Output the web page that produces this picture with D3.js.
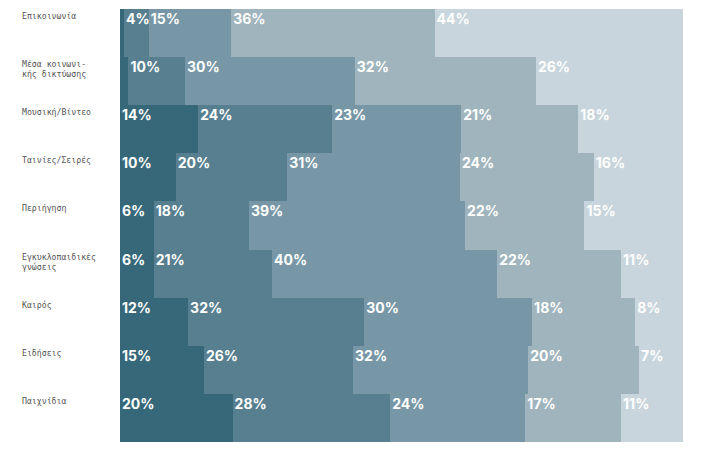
<!DOCTYPE html>
<html>
<head>
<meta charset="utf-8">
<script src="https://cdn.jsdelivr.net/npm/d3@7"></script>
<style>
  html, body { margin: 0; padding: 0; background: #fff; }
  svg { display: block; }
</style>
</head>
<body>
<svg id="chart" width="704" height="452"></svg>
<script>
const categories = [
  "Επικοινωνία",
  "Μέσα κοινωνι-\nκής δικτύωσης",
  "Μουσική/Βίντεο",
  "Ταινίες/Σειρές",
  "Περιήγηση",
  "Εγκυκλοπαιδικές\nγνώσεις",
  "Καιρός",
  "Ειδήσεις",
  "Παιχνίδια"
];
const seriesKeys = ["s1", "s2", "s3", "s4", "s5"];
// bar widths
const s1 = [0.7, 1.5, 13.9, 10, 6, 6, 12.1, 14.9, 20];
const s2 = [4.4, 10, 23.8, 20, 16.9, 21, 31.3, 26.5, 28];
const s3 = [14.6, 30, 22.9, 31, 38.4, 40, 29.8, 31.1, 24];
const s4 = [36, 32, 20.8, 24, 21.2, 22, 18.3, 19.7, 17];
const s5 = [44, 26, 18.6, 16, 17.5, 11, 8.5, 7.8, 11];
// printed percentage labels ("" = no label)
const l1 = ["", "", "14%", "10%", "6%", "6%", "12%", "15%", "20%"];
const l2 = ["4%", "10%", "24%", "20%", "18%", "21%", "32%", "26%", "28%"];
const l3 = ["15%", "30%", "23%", "31%", "39%", "40%", "30%", "32%", "24%"];
const l4 = ["36%", "32%", "21%", "24%", "22%", "22%", "18%", "20%", "17%"];
const l5 = ["44%", "26%", "18%", "16%", "15%", "11%", "8%", "7%", "11%"];
const colors = ["#37687a", "#587f8f", "#7897a6", "#9fb4bd", "#c8d5dc"];

const seriesValues = [s1, s2, s3, s4, s5];
const seriesLabels = [l1, l2, l3, l4, l5];
const rows = categories.map((c, i) => {
  const r = { category: c, index: i };
  seriesKeys.forEach((k, j) => r[k] = seriesValues[j][i]);
  return r;
});

const svg = d3.select("#chart");
const x = d3.scaleLinear().domain([0, 1]).range([120, 683]);
const y = d3.scaleBand().domain(categories).range([9, 442]).padding(0);
const color = d3.scaleOrdinal().domain(seriesKeys).range(colors);

const stacked = d3.stack().keys(seriesKeys).offset(d3.stackOffsetExpand)(rows);

const groups = svg.append("g").selectAll("g")
  .data(stacked).join("g")
  .attr("fill", d => color(d.key));

groups.selectAll("rect")
  .data(d => d.map(p => ({ p, key: d.key })))
  .join("rect")
  .attr("x", d => x(d.p[0]))
  .attr("y", d => y(d.p.data.category))
  .attr("width", d => x(d.p[1]) - x(d.p[0]))
  .attr("height", y.bandwidth())
  .attr("shape-rendering", "crispEdges");

// percentage labels
const labelG = svg.append("g");
stacked.forEach((s, si) => {
  s.forEach(p => {
    const txt = seriesLabels[si][p.data.index];
    if (!txt) return;
    labelG.append("text")
      .attr("x", x(p[0]) + 2)
      .attr("y", y(p.data.category) + 15)
      .attr("fill", "#fff")
      .attr("font-family", "Inter, Roboto, sans-serif")
      .attr("font-weight", 700)
      .attr("font-size", 14)
      .text(txt);
  });
});

// category labels
const catG = svg.append("g");
categories.forEach(c => {
  const lines = c.split("\n");
  const t = catG.append("text")
    .attr("x", 22)
    .attr("y", y(c) + 10)
    .attr("fill", "#555")
    .attr("font-family", "'DejaVu Sans Mono', 'Liberation Mono', monospace")
    .attr("font-size", 8.2);
  lines.forEach((l, i) => {
    t.append("tspan").attr("x", 22).attr("dy", i === 0 ? 0 : 10).text(l);
  });
});
</script>
</body>
</html>
